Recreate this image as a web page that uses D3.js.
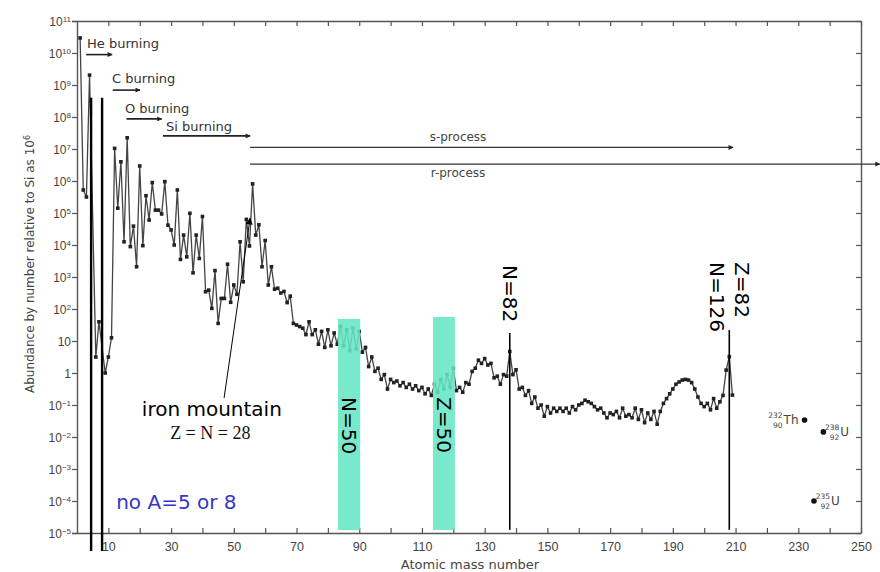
<!DOCTYPE html>
<html>
<head>
<meta charset="utf-8">
<script src="https://cdn.jsdelivr.net/npm/d3@7"></script>
<style>
body{margin:0;background:#fff;}
svg{display:block;font-family:"DejaVu Sans",sans-serif;}
</style>
</head>
<body>
<svg id="chart" width="880" height="572"></svg>
<script>
// light nuclei (no stable A=5 or A=8), log10 abundance relative to Si = 10^6
const lightMass = [1, 2, 3, 4, 6, 7, 9, 10, 11];
const lightLog  = [10.47, 5.72, 5.5, 9.31, 0.5, 1.6, 0.0, 0.5, 1.1];

// A = 12 ... 209, log10 abundance
const heavyStart = 12;
const heavyLog = [
  7.02, 5.15, 6.60, 4.10, 7.35, 3.95, 4.59, 3.32, 6.47, 3.98,
  5.54, 4.78, 5.95, 5.09, 5.09, 4.97, 5.98, 4.62, 4.47, 4.00,
  5.72, 3.55, 4.31, 3.63, 4.99, 3.13, 4.31, 3.58, 4.89, 2.54,
  2.59, 2.02, 3.20, 1.55, 2.33, 2.33, 3.40, 2.21, 2.75, 2.46,
  4.10, 2.85, 4.80, 3.97, 5.91, 4.31, 4.63, 3.32, 4.14, 2.75,
  3.32, 2.62, 2.65, 2.50, 2.55, 2.20, 2.40, 1.55, 1.50, 1.45,
  1.40, 1.20, 1.60, 1.20, 1.35, 0.90, 1.30, 0.80, 1.35, 0.85,
  1.25, 0.90, 1.45, 0.85, 1.35, 0.70, 1.40, 0.75, 1.30, 0.65,
  0.80, 0.20, 0.50, 0.05, 0.15, -0.20, -0.05, -0.50, -0.20, -0.30,
  -0.25, -0.40, -0.30, -0.45, -0.35, -0.50, -0.40, -0.55, -0.45, -0.65,
  -0.50, -0.70, -0.35, -0.60, -0.20, -0.50, -0.05, -0.45, 0.15, -0.55,
  -0.45, -0.60, -0.30, -0.35, 0.05, 0.15, 0.40, 0.30, 0.45, 0.25,
  0.30, -0.15, -0.10, -0.35, -0.05, -0.10, 0.67, -0.05, 0.10, -0.50,
  -0.45, -0.70, -0.55, -0.95, -0.75, -1.10, -1.00, -1.35, -1.05, -1.25,
  -1.10, -1.20, -1.10, -1.20, -1.10, -1.25, -1.05, -1.15, -1.00, -0.95,
  -0.85, -0.90, -0.95, -1.05, -1.15, -1.10, -1.25, -1.40, -1.25, -1.30,
  -1.20, -1.40, -1.10, -1.35, -1.30, -1.40, -1.10, -1.45, -1.15, -1.55,
  -1.25, -1.45, -1.20, -1.60, -1.20, -0.95, -0.80, -0.65, -0.50, -0.35,
  -0.28, -0.22, -0.20, -0.22, -0.30, -0.50, -0.75, -0.95, -1.05, -0.95,
  -1.15, -0.80, -1.10, -0.90, -0.70, 0.09, 0.51, -0.69
];

// Th and U, shown apart from the curve
const actMass = [232, 238, 235];
const actLog  = [-1.47, -1.84, -4.0];
const actZ    = ["90", "92", "92"];
const actEl   = ["Th", "U", "U"];

// ticks
const xTickValues = [10,20,30,40,50,60,70,80,90,100,110,120,130,140,150,160,170,180,190,200,210,220,230,240,250];
const xLabelValues = [10,30,50,70,90,110,130,150,170,190,210,230,250];
const yExps = [-5,-4,-3,-2,-1,0,1,2,3,4,5,6,7,8,9,10,11];

// annotations (A, log10 units)
const gapLines = [4.5, 8.0];               // missing A=5 and A=8
const shellLines = [{A:138, top:1.25}, {A:208, top:1.34}];
const shellBands = [{a0:83.2, a1:90.3, top:1.69, label:"N=50"}, {a0:113.5, a1:120.5, top:1.75, label:"Z=50"}];
const shellLabels = [{A:138, lg:3.375, label:"N=82"}, {A:204.1, lg:3.47, label:"N=126"}, {A:212.1, lg:3.47, label:"Z=82"}];
const burning = [
  {label:"He burning", tx:3.2,  tLog:10.16, a0:2.9,  a1:11.2, lLog:9.95},
  {label:"C burning",  tx:11.2, tLog:9.06,  a0:11.4, a1:20.1, lLog:8.84},
  {label:"O burning",  tx:15.3, tLog:8.13,  a0:15.8, a1:27.0, lLog:7.94},
  {label:"Si burning", tx:28.4, tLog:7.56,  a0:27.4, a1:55.2, lLog:7.41}
];
const processes = [
  {label:"s-process", tLog:7.25, a0:55.2, a1:209.2, lLog:7.05},
  {label:"r-process", tLog:6.13, a0:55.2, a1:256.0, lLog:6.53}
];

const svg = d3.select("#chart");
const x = d3.scaleLinear().domain([0, 250]).range([77, 861]);
const y = d3.scaleLog().domain([1e-5, 1e11]).range([533, 21]);
const p10 = v => Math.pow(10, v);

const defs = svg.append("defs");
defs.append("marker").attr("id","arr").attr("viewBox","0 0 10 10")
  .attr("refX",9).attr("refY",5).attr("markerWidth",7).attr("markerHeight",5)
  .attr("markerUnits","userSpaceOnUse").attr("orient","auto")
  .append("path").attr("d","M0,0L10,5L0,10z").attr("fill","#222");
defs.append("marker").attr("id","arr2").attr("viewBox","0 0 10 10")
  .attr("refX",9).attr("refY",5).attr("markerWidth",9).attr("markerHeight",7)
  .attr("markerUnits","userSpaceOnUse").attr("orient","auto")
  .append("path").attr("d","M0,0L10,5L0,10z").attr("fill","#000");

const axisColor = "#555";

// left axis
const gy = svg.append("g").attr("transform","translate("+x(0)+",0)")
  .call(d3.axisLeft(y).tickValues(yExps.map(p10)).tickSize(5).tickFormat(""));
gy.selectAll(".tick").each(function(d, i){
  const e = yExps[i];
  const t = d3.select(this).append("text").attr("x",-6).attr("y",4)
    .attr("text-anchor","end").attr("fill","#444").style("font-size","12px");
  if (e === 0) t.text("1");
  else if (e === 1) t.text("10");
  else {
    t.append("tspan").text("10");
    t.append("tspan").attr("dy","-0.5em").style("font-size","8px").text(e < 0 ? "\u2212" + (-e) : e);
  }
});
// right axis
svg.append("g").attr("transform","translate("+x(250)+",0)")
  .call(d3.axisRight(y).tickValues(yExps.map(p10)).tickSizeInner(-5).tickSizeOuter(0).tickFormat(""));
// top axis
svg.append("g").attr("transform","translate(0,"+y(1e11)+")")
  .call(d3.axisTop(x).tickValues(xTickValues).tickSizeInner(-5).tickSizeOuter(0).tickFormat(""));
// bottom axis
svg.append("g").attr("transform","translate(0,"+y(1e-5)+")")
  .call(d3.axisBottom(x).tickValues(xTickValues).tickSizeInner(-5).tickSizeOuter(0).tickPadding(9)
    .tickFormat(d => xLabelValues.includes(d) ? d : ""))
  .selectAll("text").attr("fill","#444").style("font-size","12.5px");
svg.selectAll(".domain").attr("stroke", axisColor).attr("stroke-width",1.4);
svg.selectAll(".tick line").attr("stroke", axisColor).attr("stroke-width",1.2);

// axis titles
svg.append("text").attr("transform","translate(34,264) rotate(-90)")
  .attr("text-anchor","middle").attr("fill","#444").style("font-size","12px")
  .call(t => {
    t.append("tspan").text("Abundance by number relative to Si as 10");
    t.append("tspan").attr("dy","-0.5em").style("font-size","8px").text("6");
  });
svg.append("text").attr("x",470).attr("y",569).attr("text-anchor","middle")
  .attr("fill","#444").style("font-size","13px").text("Atomic mass number");

// abundance curve
const curve = lightMass.map((A, i) => ({A: A, v: p10(lightLog[i])}))
  .concat(heavyLog.map((v, i) => ({A: heavyStart + i, v: p10(v)})));
svg.append("path").datum(curve)
  .attr("d", d3.line().x(d => x(d.A)).y(d => y(d.v)))
  .attr("fill","none").attr("stroke","#444").attr("stroke-width",1.3);
svg.selectAll("rect.pt").data(curve).enter().append("rect").attr("class","pt")
  .attr("x", d => x(d.A) - 1.8).attr("y", d => y(d.v) - 1.8)
  .attr("width",3.6).attr("height",3.6).attr("fill","#222");

// Th / U
actMass.forEach((A, i) => {
  const px = x(A), py = y(p10(actLog[i]));
  svg.append("circle").attr("cx",px).attr("cy",py).attr("r",2.8).attr("fill","#111");
  const g = svg.append("g").attr("fill","#444");
  const sym = g.append("text").style("font-size","12px").text(actEl[i]);
  const w = sym.node().getComputedTextLength();
  const left = i === 0 ? px - 6 - w : px + 6 + 11;
  sym.attr("x", left).attr("y", py + 4);
  g.append("text").attr("x", left - 1).attr("y", py - 2).attr("text-anchor","end")
    .style("font-size","7.5px").text(A);
  g.append("text").attr("x", left - 1).attr("y", py + 8).attr("text-anchor","end")
    .style("font-size","7.5px").text(actZ[i]);
});

// shell closure bands
shellBands.forEach(b => {
  svg.append("rect").attr("x", x(b.a0)).attr("width", x(b.a1) - x(b.a0))
    .attr("y", y(p10(b.top))).attr("height", y(1e-5) - y(p10(b.top)) - 3)
    .attr("fill","#66e6c4").attr("opacity",0.88);
  svg.append("text").attr("transform","translate("+x((b.a0 + b.a1) / 2)+","+y(p10(-0.75))+") rotate(90)")
    .attr("dominant-baseline","central").attr("fill","#000").style("font-size","20px").text(b.label);
});

// missing mass lines
gapLines.forEach(A => {
  svg.append("line").attr("x1", x(A)).attr("x2", x(A))
    .attr("y1", y(p10(8.6))).attr("y2", y(p10(-5.56)))
    .attr("stroke","#000").attr("stroke-width",2.4);
});
// N=82, N=126 lines
shellLines.forEach(s => {
  svg.append("line").attr("x1", x(s.A)).attr("x2", x(s.A))
    .attr("y1", y(p10(s.top))).attr("y2", y(p10(-4.9)))
    .attr("stroke","#000").attr("stroke-width",1.6);
});
shellLabels.forEach(s => {
  svg.append("text")
    .attr("transform","translate("+x(s.A)+","+y(p10(s.lg))+") rotate(90)")
    .attr("dominant-baseline","central").attr("fill","#000").style("font-size","20px").text(s.label);
});

// burning stages
burning.forEach(b => {
  svg.append("text").attr("x", x(b.tx)).attr("y", y(p10(b.tLog)))
    .attr("fill","#333").style("font-size","13px").text(b.label);
  svg.append("line").attr("x1", x(b.a0)).attr("x2", x(b.a1))
    .attr("y1", y(p10(b.lLog))).attr("y2", y(p10(b.lLog)))
    .attr("stroke","#222").attr("stroke-width",1.6).attr("marker-end","url(#arr)");
});
processes.forEach(p => {
  svg.append("text").attr("x", x(121.5)).attr("y", y(p10(p.tLog))).attr("text-anchor","middle")
    .attr("fill","#444").style("font-size","12px").text(p.label);
  svg.append("line").attr("x1", x(p.a0)).attr("x2", x(p.a1))
    .attr("y1", y(p10(p.lLog))).attr("y2", y(p10(p.lLog)))
    .attr("stroke","#333").attr("stroke-width",1.3).attr("marker-end","url(#arr)");
});

// iron mountain
svg.append("line").attr("x1", x(46.9)).attr("y1", y(p10(-0.78)))
  .attr("x2", x(55.2)).attr("y2", y(p10(4.84)))
  .attr("stroke","#000").attr("stroke-width",1).attr("marker-end","url(#arr2)");
svg.append("text").attr("x", x(43.0)).attr("y", y(p10(-1.35))).attr("text-anchor","middle")
  .attr("fill","#000").style("font-size","20px").text("iron mountain");
svg.append("text").attr("x", x(42.5)).attr("y", y(p10(-2.05))).attr("text-anchor","middle")
  .attr("fill","#111").style("font-family","'Liberation Serif',serif").style("font-size","18px")
  .text("Z = N = 28");

svg.append("text").attr("x", x(12.5)).attr("y", y(p10(-4.25)))
  .attr("fill","#3636cc").style("font-size","20px").text("no A=5 or 8");
</script>
</body>
</html>
